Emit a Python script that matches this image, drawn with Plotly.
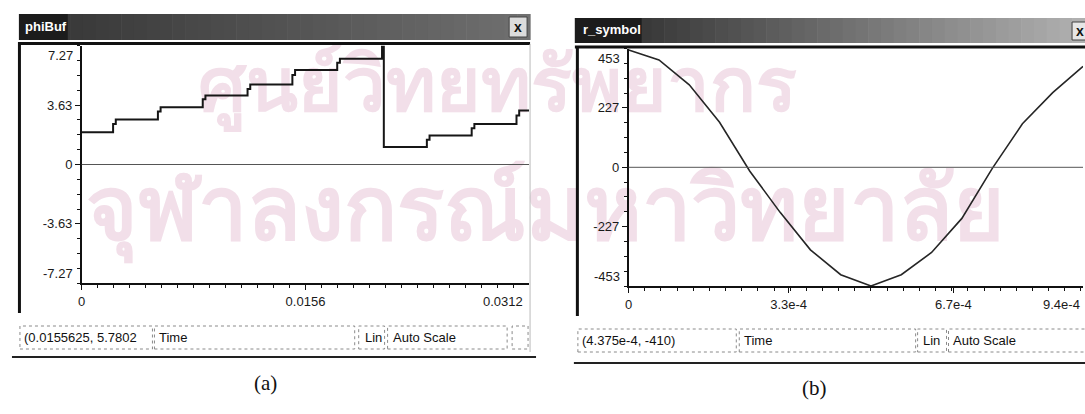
import plotly.graph_objects as go

W, H = 1085, 414

# ---- phiBuf: accumulated phase, held between updates (time in s, value in rad)
phi_time = [0, 0.0021875, 0.0023750, 0.0053125, 0.0055000, 0.0084375, 0.0086250,
            0.0115625, 0.0117500, 0.0146875, 0.0148750, 0.0178125, 0.0180000,
            0.0209375, 0.0210625, 0.0240625, 0.0242500, 0.0271875, 0.0273750,
            0.0303125, 0.0305000, 0.0311875]
phi_value = [1.98, 2.48, 2.75, 3.25, 3.51, 4.00, 4.22, 4.62, 4.90, 5.48, 5.78,
             6.22, 6.47, 7.27, 1.07, 1.52, 1.77, 2.22, 2.48, 3.00, 3.30, 3.30]
phi_xticks = [0, 0.0156, 0.0311875]
phi_xtext = ["0", "0.0156", "0.0312"]
phi_yticks = [-7.27, -3.63, 0, 3.63, 7.27]
phi_ytext = ["-7.27", "-3.63", "0", "3.63", "7.27"]

# ---- r_symbol: received symbol samples
sym_time = [0, 6.25e-5, 1.25e-4, 1.875e-4, 2.5e-4, 3.125e-4, 3.75e-4, 4.375e-4,
            5.0e-4, 5.625e-4, 6.25e-4, 6.875e-4, 7.5e-4, 8.125e-4, 8.75e-4, 9.375e-4]
sym_value = [448, 410, 315, 172, -15, -172, -315, -410,
             -453, -410, -325, -195, -5, 166, 285, 385]
sym_xticks = [0, 3.3e-4, 6.7e-4, 9.375e-4]
sym_xtext = ["0", "3.3e-4", "6.7e-4", "9.4e-4"]
sym_yticks = [-453, -227, 0, 227, 453]
sym_ytext = ["-453", "-227", "0", "227", "453"]

# window captions and status-bar fields
phi_status = ["(0.0155625, 5.7802", "Time", "Lin", "Auto Scale"]
sym_status = ["(4.375e-4, -410)", "Time", "Lin", "Auto Scale"]
watermark = ["ศูนย์วิทยทรัพยากร", "จุฬาลงกรณ์มหาวิทยาลัย"]

SANS = "Liberation Sans, Arial, sans-serif"


def px(x):
    return x / W


def py(y):
    return 1 - y / H


fig = go.Figure()

# background layer (drawn first, below the scopes)
fig.add_trace(go.Scatter(
    x=[495, 543], y=[92, 217], mode="text", text=watermark,
    textfont=dict(size=[76, 88], color="#f2dfe9", weight="bold",
                  family="Noto Sans, DejaVu Sans, sans-serif"),
    hoverinfo="skip", showlegend=False, xaxis="x", yaxis="y"))

fig.add_trace(go.Scatter(
    x=phi_time, y=phi_value, mode="lines", line=dict(color="#161616", width=2, shape="hv"),
    showlegend=False, xaxis="x2", yaxis="y2"))

fig.add_trace(go.Scatter(
    x=sym_time, y=sym_value, mode="lines", line=dict(color="#262626", width=1.6),
    showlegend=False, xaxis="x3", yaxis="y3"))

tick_font = dict(family=SANS, size=13, color="#1a1a1a")

axis_common = dict(showgrid=False, zeroline=False, showline=True, linecolor="#111",
                   ticks="outside", tickcolor="#111", tickfont=tick_font, fixedrange=True)

fig.update_layout(
    width=W, height=H, margin=dict(l=0, r=0, t=0, b=0),
    paper_bgcolor="white", plot_bgcolor="rgba(0,0,0,0)",
    xaxis=dict(domain=[0, 1], range=[0, W], visible=False),
    yaxis=dict(domain=[0, 1], range=[H, 0], visible=False),
    xaxis2=dict(domain=[px(78), px(527)], range=[0, 0.0311875], anchor="y2",
                tickvals=phi_xticks[:2], ticktext=phi_xtext[:2], ticklen=5, linewidth=2,
                minor=dict(dtick=0.0156 / 14, tick0=0, ticklen=3, ticks="outside", tickcolor="#111"),
                **axis_common),
    yaxis2=dict(domain=[py(283.3), py(45.7)], range=[-7.27, 7.27], anchor="x2",
                tickvals=phi_yticks[1:4], ticktext=phi_ytext[1:4], ticklen=5, linewidth=1.5,
                minor=dict(dtick=7.27 / 8, tick0=0, ticklen=3, ticks="outside", tickcolor="#111"),
                **axis_common),
    xaxis3=dict(domain=[px(627), px(1083)], range=[0, 9.375e-4], anchor="y3",
                tickvals=sym_xticks[:3], ticktext=sym_xtext[:3], ticklen=5, linewidth=2,
                minor=dict(dtick=1e-3 / 30, tick0=0, ticklen=3, ticks="outside", tickcolor="#111"),
                **axis_common),
    yaxis3=dict(domain=[py(286), py(48.6)], range=[-453, 453], anchor="x3",
                tickvals=sym_yticks[1:4], ticktext=sym_ytext[1:4], ticklen=5, linewidth=1.5,
                minor=dict(dtick=453 / 8, tick0=0, ticklen=3, ticks="outside", tickcolor="#111"),
                **axis_common),
)

shapes = []
ann = []

# zero reference lines inside each plot
for xr, yr in (("x2", "y2"), ("x3", "y3")):
    shapes.append(dict(type="line", xref=f"{xr} domain", yref=yr, x0=0, x1=1, y0=0, y1=0,
                       line=dict(color="#555", width=1)))


def title_bar(x0, x1, y0, y1, c0, c1, n=40):
    for i in range(n):
        t = i / (n - 1)
        col = tuple(int(c0[k] + (c1[k] - c0[k]) * t) for k in range(3))
        a = x0 + (x1 - x0) * i / n
        b = x0 + (x1 - x0) * (i + 1) / n + 0.6
        shapes.append(dict(type="rect", xref="paper", yref="paper", x0=px(a), x1=px(b),
                           y0=py(y1), y1=py(y0), line=dict(width=0),
                           fillcolor="rgb(%d,%d,%d)" % col))


def hline(x0, x1, y, color, width):
    shapes.append(dict(type="line", xref="paper", yref="paper", x0=px(x0), x1=px(x1),
                       y0=py(y), y1=py(y), line=dict(color=color, width=width)))


def vline(x, y0, y1, color, width):
    shapes.append(dict(type="line", xref="paper", yref="paper", x0=px(x), x1=px(x),
                       y0=py(y0), y1=py(y1), line=dict(color=color, width=width)))


def box(x0, x1, y0, y1, color="#8a8a8a", fill="rgba(0,0,0,0)", dash="dot"):
    shapes.append(dict(type="rect", xref="paper", yref="paper", x0=px(x0), x1=px(x1),
                       y0=py(y1), y1=py(y0), line=dict(color=color, width=1, dash=dash),
                       fillcolor=fill))


def text(x, y, s, size=13, xanchor="left", color="#111", family=SANS, bold=False):
    ann.append(dict(xref="paper", yref="paper", x=px(x), y=py(y), text=f"<b>{s}</b>" if bold else s,
                    showarrow=False, xanchor=xanchor, yanchor="middle",
                    font=dict(family=family, size=size, color=color)))


# ---- window (a): phiBuf
title_bar(15, 528, 14, 40, (52, 52, 52), (112, 112, 112))
shapes.append(dict(type="rect", xref="paper", yref="paper", x0=px(15), x1=px(64),
                   y0=py(40), y1=py(14), line=dict(width=0), fillcolor="#1c1c1c"))
text(19, 27, "phiBuf", size=13, color="white", bold=True)
box(507, 525, 17, 37, color="#444", fill="#dcdcdc", dash="solid")
text(516, 27.5, "x", size=14, xanchor="center", color="#111", bold=True)
hline(15, 528, 43.5, "#111", 3)
vline(15.5, 42, 313, "#111", 3)
vline(528, 44, 352, "#bbbbbb", 1)

# ---- window (b): r_symbol
title_bar(573, 1085, 18, 43, (40, 40, 40), (176, 176, 176))
shapes.append(dict(type="rect", xref="paper", yref="paper", x0=px(573), x1=px(640),
                   y0=py(43), y1=py(18), line=dict(width=0), fillcolor="#1c1c1c"))
text(579, 30, "r_symbol", size=13, color="white", bold=True)
box(1072, 1086, 22, 40, color="#444", fill="#e6e6e6", dash="solid")
text(1080, 31, "x", size=14, xanchor="center", color="#111", bold=True)
hline(573, 1085, 47, "#111", 3)
vline(575.5, 46, 316, "#111", 3)

# ---- axis end labels, kept inside the plot frame
ann += [
    dict(xref="x2", yref="y2", x=0, y=phi_yticks[4], text=phi_ytext[4], showarrow=False,
         xanchor="right", yanchor="top", xshift=-7, font=tick_font),
    dict(xref="x2", yref="y2", x=0, y=phi_yticks[0], text=phi_ytext[0], showarrow=False,
         xanchor="right", yanchor="bottom", xshift=-7, font=tick_font),
    dict(xref="x2", yref="y2", x=phi_xticks[2], y=-7.27, text=phi_xtext[2], showarrow=False,
         xanchor="right", yanchor="top", yshift=-9, xshift=-4, font=tick_font),
    dict(xref="x3", yref="y3", x=0, y=sym_yticks[4], text=sym_ytext[4], showarrow=False,
         xanchor="right", yanchor="top", xshift=-7, font=tick_font),
    dict(xref="x3", yref="y3", x=0, y=sym_yticks[0], text=sym_ytext[0], showarrow=False,
         xanchor="right", yanchor="bottom", xshift=-7, font=tick_font),
    dict(xref="x3", yref="y3", x=sym_xticks[3], y=-453, text=sym_xtext[3], showarrow=False,
         xanchor="right", yanchor="top", yshift=-9, xshift=-1, font=tick_font),
]

# ---- status bars
box(16, 149, 326, 349)
box(151, 352, 326, 349)
box(356, 382, 326, 349)
box(385, 505, 326, 349)
box(510, 526, 326, 349)
text(18, 337.5, phi_status[0])
text(154, 337.5, phi_status[1])
text(360, 337.5, phi_status[2])
text(388, 337.5, phi_status[3])
hline(8, 534, 357, "#222", 2)

box(576, 735, 329, 352)
box(738, 915, 329, 352)
box(917, 946, 329, 352)
box(948, 1086, 329, 352)
text(578, 340.5, sym_status[0])
text(741, 340.5, sym_status[1])
text(920, 340.5, sym_status[2])
text(951, 340.5, sym_status[3])
hline(572, 1085, 363, "#222", 2)

# ---- sub-figure captions
text(262, 383, "(a)", size=21, xanchor="center", family="Liberation Serif, Times New Roman, serif")
text(813, 388, "(b)", size=21, xanchor="center", family="Liberation Serif, Times New Roman, serif")

fig.update_layout(shapes=shapes, annotations=ann)
fig.write_html("out.html")
